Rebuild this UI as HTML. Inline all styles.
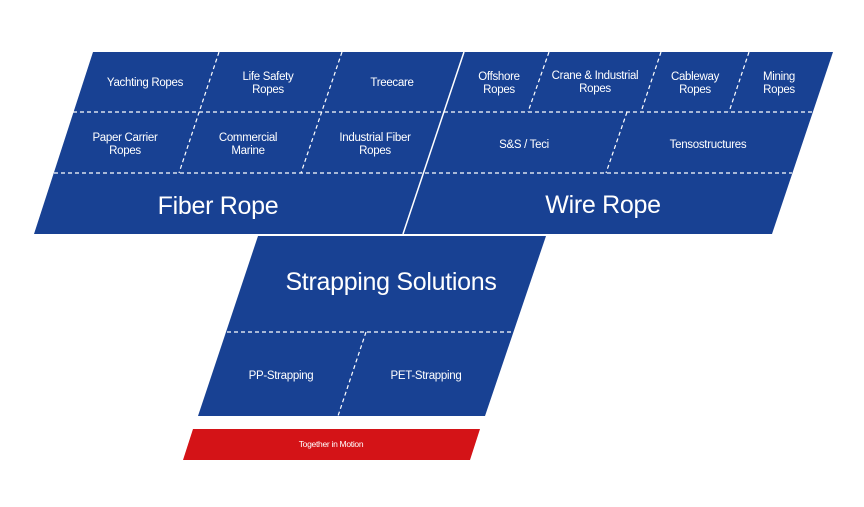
<!DOCTYPE html>
<html><head><meta charset="utf-8"><style>
html,body{margin:0;padding:0;background:#fff;width:864px;height:507px;overflow:hidden}
svg{display:block}
text{font-family:"Liberation Sans",sans-serif;fill:#fff;text-anchor:middle;letter-spacing:-0.3px}
.s{font-size:11.5px}
.b{font-size:25px}
</style></head><body>
<svg width="864" height="507" viewBox="0 0 864 507">
<g fill="#184193">
<polygon points="93,52 464,52 403,234 34,234"/>
<polygon points="464,52 833,52 772,234 403,234"/>
<polygon points="258,236 546,236 485,416 198,416"/>
</g>
<polygon points="193,429 480,429 470,460 183,460" fill="#d41317"/>
<line x1="464" y1="52" x2="403" y2="234" stroke="#fff" stroke-width="1.5"/>
<g stroke="#fff" stroke-width="1.2" stroke-dasharray="4,3" fill="none">
<line x1="73" y1="112" x2="813" y2="112"/>
<line x1="54" y1="173" x2="792" y2="173"/>
<line x1="227" y1="332" x2="514" y2="332"/>
<line x1="219" y1="52" x2="179" y2="173"/>
<line x1="342" y1="52" x2="301" y2="173"/>
<line x1="549" y1="52" x2="528" y2="112"/>
<line x1="661" y1="52" x2="641" y2="112"/>
<line x1="749" y1="52" x2="729" y2="112"/>
<line x1="627" y1="112" x2="606" y2="173"/>
<line x1="366" y1="332" x2="338" y2="416"/>
</g>
<g class="s">
<text x="145" y="86">Yachting Ropes</text>
<text x="268" y="80">Life Safety</text><text x="268" y="93">Ropes</text>
<text x="392" y="86">Treecare</text>
<text x="125" y="141">Paper Carrier</text><text x="125" y="154">Ropes</text>
<text x="248" y="141">Commercial</text><text x="248" y="154">Marine</text>
<text x="375" y="141">Industrial Fiber</text><text x="375" y="154">Ropes</text>
<text x="499" y="80">Offshore</text><text x="499" y="93">Ropes</text>
<text x="595" y="79">Crane &amp; Industrial</text><text x="595" y="92">Ropes</text>
<text x="695" y="80">Cableway</text><text x="695" y="93">Ropes</text>
<text x="779" y="80">Mining</text><text x="779" y="93">Ropes</text>
<text x="524" y="148">S&amp;S / Teci</text>
<text x="708" y="148">Tensostructures</text>
<text x="281" y="379">PP-Strapping</text>
<text x="426" y="379">PET-Strapping</text>
</g>
<text class="b" x="218" y="214">Fiber Rope</text>
<text class="b" x="603" y="213">Wire Rope</text>
<text class="b" x="391" y="290">Strapping Solutions</text>
<text x="331" y="447" style="font-size:8.5px">Together in Motion</text>
</svg>
</body></html>
